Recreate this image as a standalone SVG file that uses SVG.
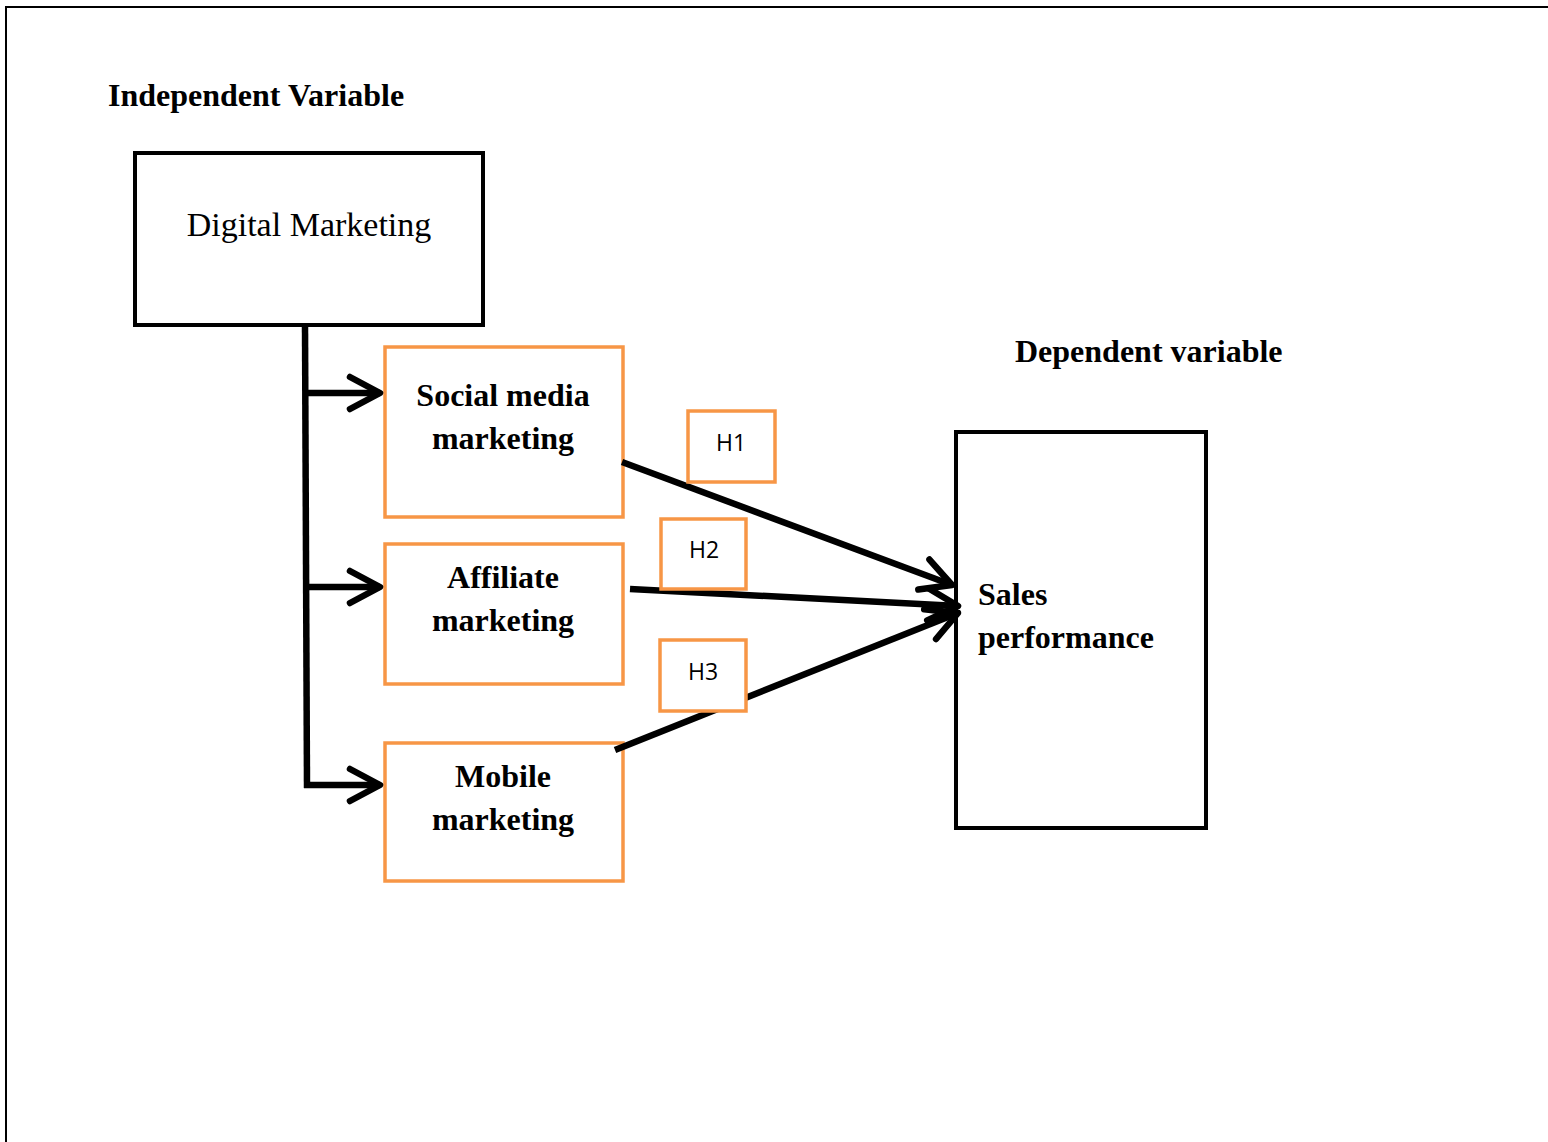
<svg xmlns="http://www.w3.org/2000/svg" width="1548" height="1142" viewBox="0 0 1548 1142">
<style>
.serif{font-family:"Liberation Serif","Times New Roman",serif;fill:#000}
.b{font-weight:bold;font-size:32px}
.c{text-anchor:middle}
.blk{fill:#fff;stroke:#000;stroke-width:4}
.org{fill:#fff;stroke:#F79646;stroke-width:3.5}
.h{font-family:"Open Sans","Liberation Sans",Arial,sans-serif;font-size:23px;text-anchor:middle;fill:#000}
.con{fill:none;stroke:#000;stroke-width:6.5;stroke-linecap:butt;stroke-linejoin:round}
</style>
<defs>
<marker id="chev" viewBox="-6 -6 12 12" markerWidth="12" markerHeight="12" refX="0" refY="0" orient="auto" markerUnits="userSpaceOnUse" overflow="visible">
<polyline points="-30,-16 0,0 -30,16" fill="none" stroke="#000" stroke-width="6.5" stroke-linecap="round" stroke-linejoin="round"/>
</marker>
</defs>
<rect width="1548" height="1142" fill="#fff"/>
<polyline points="6,1142 6,7 1548,7" fill="none" stroke="#000" stroke-width="2"/>
<text class="serif b" x="108" y="106">Independent Variable</text>
<text class="serif b" x="1015" y="362">Dependent variable</text>
<g id="digital-marketing">
<rect class="blk" x="135" y="153" width="348" height="172"/>
<text class="serif c" x="309" y="236" font-size="34">Digital Marketing</text>
</g>
<g id="social-media">
<rect class="org" x="385" y="347" width="238" height="170"/>
<text class="serif b c" x="503" y="406">Social media</text>
<text class="serif b c" x="503" y="449">marketing</text>
</g>
<g id="affiliate">
<rect class="org" x="385" y="544" width="238" height="140"/>
<text class="serif b c" x="503" y="588">Affiliate</text>
<text class="serif b c" x="503" y="631">marketing</text>
</g>
<g id="mobile">
<rect class="org" x="385" y="743" width="238" height="138"/>
<text class="serif b c" x="503" y="787">Mobile</text>
<text class="serif b c" x="503" y="830">marketing</text>
</g>
<g id="sales">
<rect class="blk" x="956" y="432" width="250" height="396" style="fill:none"/>
<text class="serif b" x="978" y="605">Sales</text>
<text class="serif b" x="978" y="648">performance</text>
</g>
<g id="connectors">
<polyline class="con" points="305,325 307,788"/>
<line class="con" x1="305" y1="393" x2="380" y2="393" marker-end="url(#chev)"/>
<line class="con" x1="306" y1="587" x2="380" y2="587" marker-end="url(#chev)"/>
<line class="con" x1="304" y1="785" x2="380" y2="785" marker-end="url(#chev)"/>
<line class="con" x1="622" y1="462" x2="952" y2="585" marker-end="url(#chev)"/>
<line class="con" x1="630" y1="589" x2="958" y2="606" marker-end="url(#chev)"/>
<line class="con" x1="615" y1="750" x2="958" y2="613" marker-end="url(#chev)"/>
</g>
<g id="h1">
<rect class="org" x="688" y="411" width="87" height="71"/>
<text class="h" x="731" y="451">H1</text>
</g>
<g id="h2">
<rect class="org" x="661" y="519" width="85" height="70"/>
<text class="h" x="704" y="558">H2</text>
</g>
<g id="h3">
<rect class="org" x="660" y="640" width="86" height="71"/>
<text class="h" x="703" y="680">H3</text>
</g>
</svg>
